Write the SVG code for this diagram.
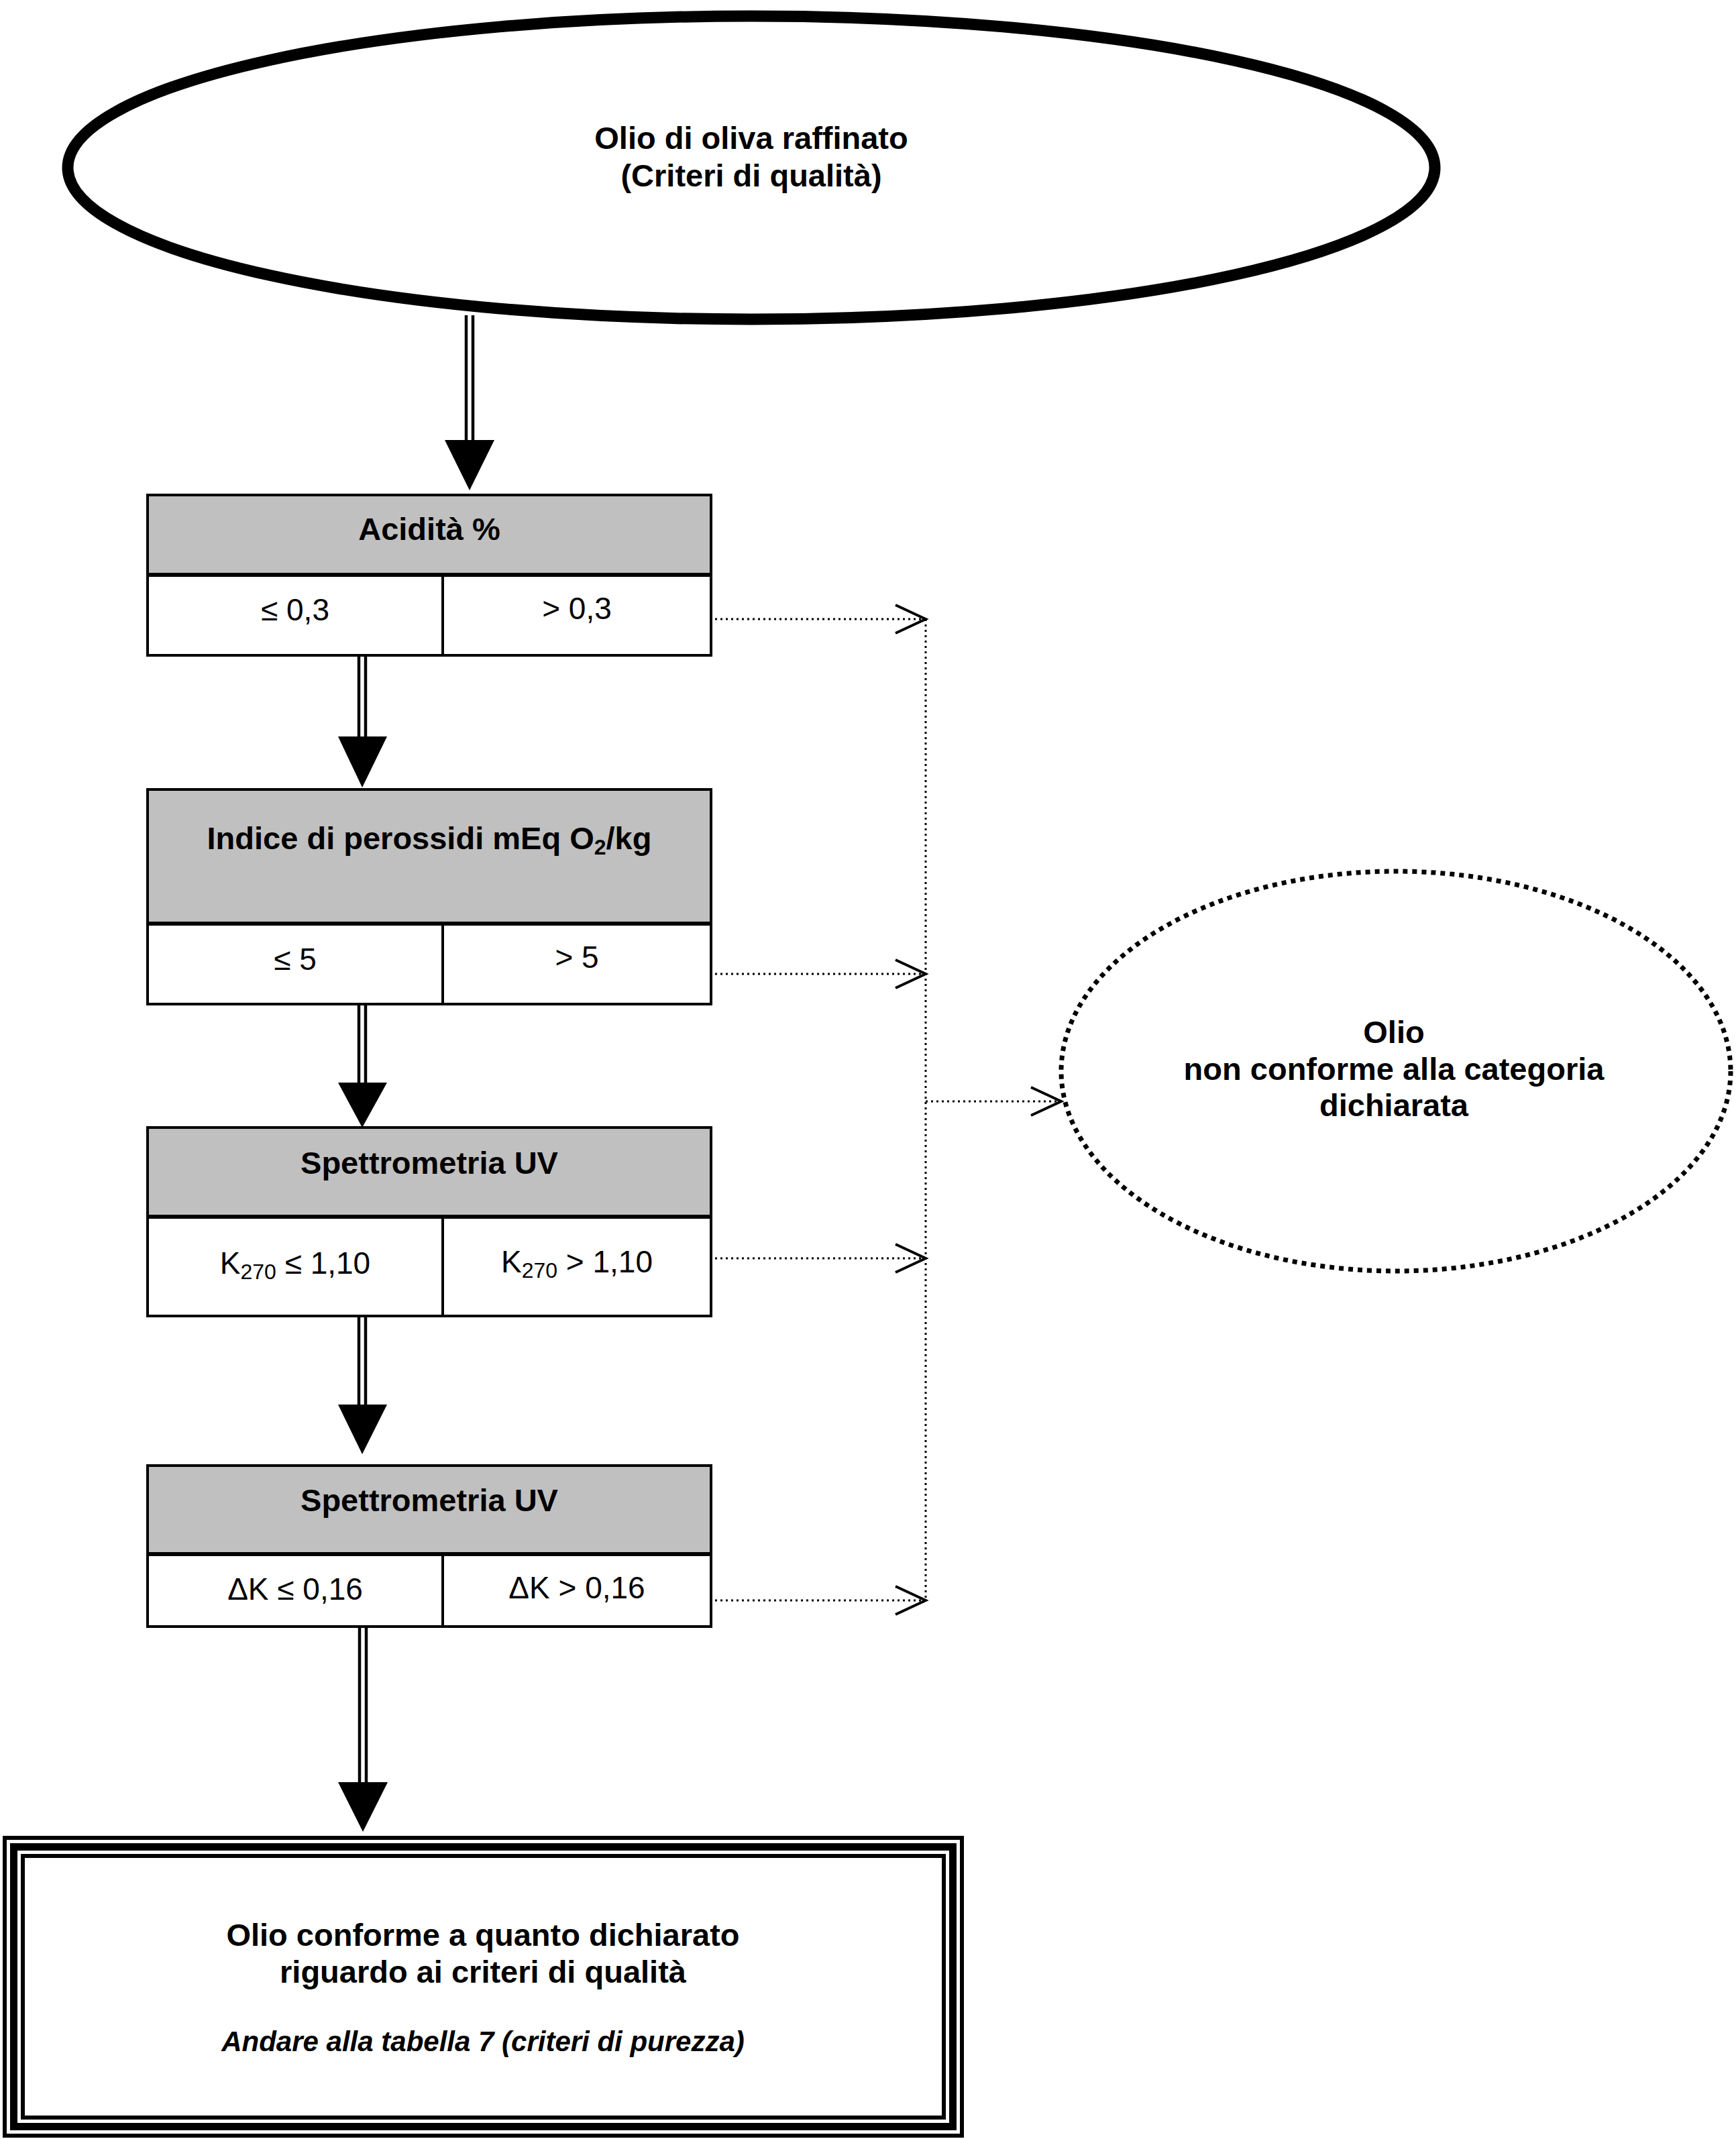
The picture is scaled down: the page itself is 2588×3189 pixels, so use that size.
<svg xmlns="http://www.w3.org/2000/svg" width="2588" height="3189" viewBox="0 0 2588 3189">
<style>
text{font-family:"Liberation Sans",Arial,sans-serif;fill:#000}
.b{font-weight:bold;font-size:47px}
.r{font-size:46px}
.i{font-weight:bold;font-style:italic;font-size:42px}
.hdr{fill:#c0c0c0;stroke:none}
.box{fill:none;stroke:#000;stroke-width:4}
.sep{stroke:#000;stroke-width:6}
.div{stroke:#000;stroke-width:4}
.dbl{stroke:#000;stroke-width:4.5;fill:none}
.head{fill:#000;stroke:none}
.dot{stroke:#000;stroke-width:3;stroke-dasharray:3 5;fill:none}
.chev{stroke:#000;stroke-width:4;fill:none}
</style>
<defs>
<marker id="open" markerUnits="userSpaceOnUse" markerWidth="60" markerHeight="60" refX="48" refY="30" orient="auto" overflow="visible">
<polyline points="3,9 48,30 3,51" class="chev"/>
</marker>
</defs>
<rect width="2588" height="3189" fill="#fff"/>

<g id="start">
<ellipse cx="1120" cy="250" rx="1019" ry="226" fill="#fff" stroke="#000" stroke-width="17"/>
<text class="b" x="1120" y="222" text-anchor="middle">Olio di oliva raffinato</text>
<text class="b" x="1120" y="278" text-anchor="middle">(Criteri di qualità)</text>
</g>

<g id="acidita">
<rect class="hdr" x="220" y="738" width="840" height="119"/>
<rect class="box" x="220" y="738" width="840" height="239"/>
<line class="sep" x1="220" y1="857" x2="1060" y2="857"/>
<line class="div" x1="660" y1="857" x2="660" y2="977"/>
<text class="b" x="640" y="805" text-anchor="middle">Acidità %</text>
<text class="r" x="440" y="925" text-anchor="middle">≤ 0,3</text>
<text class="r" x="860" y="923" text-anchor="middle">&gt; 0,3</text>
</g>

<g id="perossidi">
<rect class="hdr" x="220" y="1177" width="840" height="200"/>
<rect class="box" x="220" y="1177" width="840" height="320"/>
<line class="sep" x1="220" y1="1377" x2="1060" y2="1377"/>
<line class="div" x1="660" y1="1377" x2="660" y2="1497"/>
<text class="b" x="640" y="1266" text-anchor="middle">Indice di perossidi mEq O<tspan font-size="32" dy="8">2</tspan><tspan dy="-8">/kg</tspan></text>
<text class="r" x="440" y="1446" text-anchor="middle">≤ 5</text>
<text class="r" x="860" y="1443" text-anchor="middle">&gt; 5</text>
</g>

<g id="k270">
<rect class="hdr" x="220" y="1681" width="840" height="133"/>
<rect class="box" x="220" y="1681" width="840" height="281"/>
<line class="sep" x1="220" y1="1814" x2="1060" y2="1814"/>
<line class="div" x1="660" y1="1814" x2="660" y2="1962"/>
<text class="b" x="640" y="1750" text-anchor="middle">Spettrometria UV</text>
<text class="r" x="440" y="1899" text-anchor="middle">K<tspan font-size="32" dy="8">270</tspan><tspan dy="-8"> ≤ 1,10</tspan></text>
<text class="r" x="860" y="1897" text-anchor="middle">K<tspan font-size="32" dy="8">270</tspan><tspan dy="-8"> &gt; 1,10</tspan></text>
</g>

<g id="deltak">
<rect class="hdr" x="220" y="2185" width="840" height="132"/>
<rect class="box" x="220" y="2185" width="840" height="240"/>
<line class="sep" x1="220" y1="2317" x2="1060" y2="2317"/>
<line class="div" x1="660" y1="2317" x2="660" y2="2425"/>
<text class="b" x="640" y="2253" text-anchor="middle">Spettrometria UV</text>
<text class="r" x="440" y="2385" text-anchor="middle">ΔK ≤ 0,16</text>
<text class="r" x="860" y="2383" text-anchor="middle">ΔK &gt; 0,16</text>
</g>

<g id="conforme">
<rect x="7" y="2740" width="1427" height="444" fill="#fff" stroke="#000" stroke-width="6"/>
<rect x="20.5" y="2753.5" width="1400" height="417" fill="none" stroke="#000" stroke-width="11"/>
<rect x="34" y="2767" width="1373" height="390" fill="none" stroke="#000" stroke-width="6"/>
<text class="b" x="720" y="2901" text-anchor="middle">Olio conforme a quanto dichiarato</text>
<text class="b" x="720" y="2956" text-anchor="middle">riguardo ai criteri di qualità</text>
<text class="i" x="720" y="3058" text-anchor="middle">Andare alla tabella 7 (criteri di purezza)</text>
</g>

<g id="nonconforme">
<ellipse cx="2081" cy="1597" rx="499" ry="298" fill="none" stroke="#000" stroke-width="7" stroke-dasharray="7 7"/>
<text class="b" x="2078" y="1555" text-anchor="middle">Olio</text>
<text class="b" x="2078" y="1610" text-anchor="middle">non conforme alla categoria</text>
<text class="b" x="2078" y="1664" text-anchor="middle">dichiarata</text>
</g>

<g id="connectors">
<line class="dbl" x1="695" y1="470" x2="695" y2="658"/>
<line class="dbl" x1="705" y1="470" x2="705" y2="658"/>
<polygon class="head" points="663,656 737,656 700,731"/>

<line class="dbl" x1="535" y1="977" x2="535" y2="1100"/>
<line class="dbl" x1="545" y1="977" x2="545" y2="1100"/>
<polygon class="head" points="504,1098 577,1098 540,1174"/>

<line class="dbl" x1="535" y1="1497" x2="535" y2="1616"/>
<line class="dbl" x1="545" y1="1497" x2="545" y2="1616"/>
<polygon class="head" points="504,1614 577,1614 540,1681"/>

<line class="dbl" x1="535" y1="1962" x2="535" y2="2096"/>
<line class="dbl" x1="545" y1="1962" x2="545" y2="2096"/>
<polygon class="head" points="504,2094 577,2094 540,2168"/>

<line class="dbl" x1="536" y1="2425" x2="536" y2="2659"/>
<line class="dbl" x1="546" y1="2425" x2="546" y2="2659"/>
<polygon class="head" points="504,2657 578,2657 541,2731"/>

<line class="dot" x1="1066" y1="923" x2="1380" y2="923" marker-end="url(#open)"/>
<line class="dot" x1="1066" y1="1452" x2="1380" y2="1452" marker-end="url(#open)"/>
<line class="dot" x1="1066" y1="1876" x2="1380" y2="1876" marker-end="url(#open)"/>
<line class="dot" x1="1066" y1="2386" x2="1380" y2="2386" marker-end="url(#open)"/>
<line class="dot" x1="1380" y1="923" x2="1380" y2="2386"/>
<line class="dot" x1="1380" y1="1642" x2="1582" y2="1642" marker-end="url(#open)"/>
</g>
</svg>
